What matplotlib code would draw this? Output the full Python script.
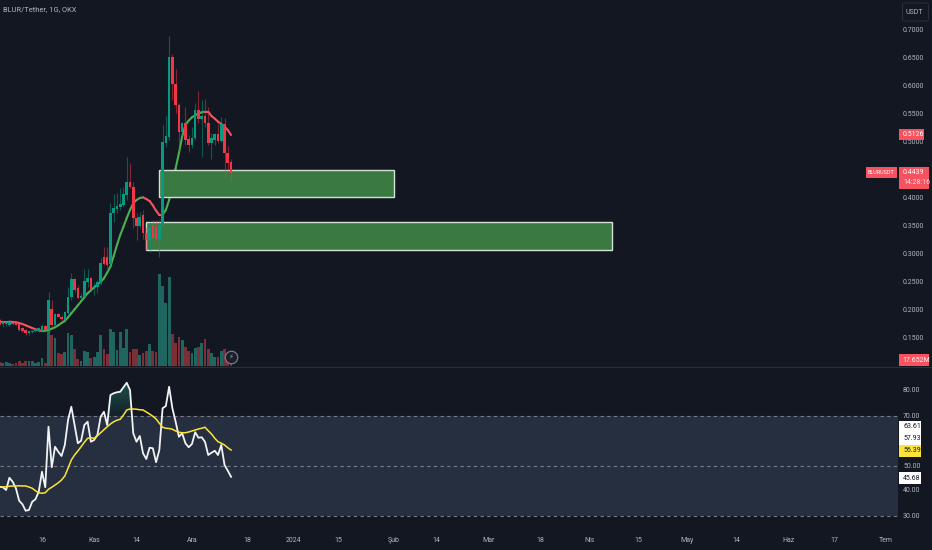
import matplotlib
matplotlib.use("Agg")
import matplotlib.pyplot as plt
from matplotlib import font_manager
from matplotlib.patches import Rectangle, FancyBboxPatch
import numpy as np

BG = "#131722"
W, H = 932, 550

# days counted from 16 Oct
days = list(range(-13, 59))
opens = [.1822, .1750, .1744, .1732, .1774, .1774, .1744, .1673, .1643, .1583, .1607, .1631, .1625, .1631, .1714,
         .1643, .2012, .1732, .1935, .1881, .1822, .1941, .2226, .2548, .2387, .2208, .2238, .2506, .2566, .2387,
         .2405, .2476, .2953, .2953, .2822, .3726, .3798, .3845, .3875, .4054, .4280, .4203, .3649, .3500, .3697,
         .3369, .3250, .3518, .3488, .3262, .3518, .4988, .5095, .6512, .6036, .5661, .5185, .5333, .5048, .4947,
         .5066, .5572, .5405, .5464, .5345, .4988, .5036, .5137, .5024, .5316, .4810, .4649]
highs = [.1833, .1810, .1792, .1792, .1786, .1786, .1762, .1691, .1655, .1619, .1643, .1673, .1702, .1744, .1732,
         .2328, .2179, .1953, .1953, .1905, .1988, .2417, .2667, .2572, .2446, .2298, .2726, .2726, .2583, .2476,
         .2536, .2923, .3131, .3131, .3905, .4072, .4083, .4173, .4203, .4738, .4619, .4292, .3726, .3756, .3786,
         .3488, .3578, .3607, .3607, .3607, .5304, .5464, .6893, .6566, .6298, .5691, .5363, .5619, .5125, .5262,
         .5691, .5917, .5750, .5762, .5631, .5155, .5155, .5321, .5452, .5423, .4929, .4691]
lows = [.1732, .1702, .1714, .1714, .1726, .1726, .1619, .1613, .1554, .1548, .1583, .1613, .1607, .1613, .1613,
        .1583, .1714, .1714, .1869, .1810, .1792, .1911, .2179, .2328, .2191, .2179, .2208, .2417, .2345, .2268,
        .2298, .2446, .2804, .2744, .2774, .3578, .3726, .3786, .3845, .3964, .4173, .3458, .3250, .3458, .3262,
        .3072, .3042, .3250, .3250, .2953, .3488, .4917, .5036, .5750, .5512, .4827, .5036, .4947, .4827, .4887,
        .5036, .5333, .4738, .5274, .4947, .4691, .4947, .4988, .5006, .4333, .4500, .4292]
closes = [.1750, .1792, .1780, .1780, .1744, .1738, .1643, .1631, .1583, .1619, .1631, .1655, .1673, .1714, .1643,
          .2179, .1732, .1929, .1881, .1833, .1970, .2238, .2548, .2357, .2208, .2250, .2518, .2566, .2357, .2417,
          .2494, .2833, .2822, .2804, .3738, .3816, .3857, .3893, .4072, .4280, .4203, .3637, .3500, .3667, .3369,
          .3250, .3458, .3280, .3262, .3518, .5006, .5107, .6512, .6036, .5661, .5185, .5333, .5036, .4947, .5066,
          .5572, .5405, .5464, .5345, .4988, .5066, .5137, .5024, .5316, .4810, .4631, .4439]
volumes = [12, 9, 12, 9, 6, 9, 15, 9, 15, 15, 15, 9, 12, 24, 9,
           114, 93, 84, 39, 36, 42, 99, 93, 51, 21, 15, 45, 42, 24, 27,
           42, 93, 51, 36, 111, 102, 48, 102, 54, 111, 42, 51, 51, 33, 39,
           45, 66, 45, 42, 276, 240, 189, 267, 96, 69, 87, 78, 57, 45, 39,
           54, 57, 69, 81, 51, 39, 27, 27, 45, 51, 39, 17.652]
ma = [.1792, .1792, .1792, .1792, .1786, .1780, .1768, .1750, .1726, .1702, .1679, .1655, .1637, .1625, .1631,
      .1643, .1667, .1691, .1726, .1768, .1804, .1869, .1941, .2012, .2083, .2155, .2226, .2298, .2351, .2405,
      .2452, .2500, .2566, .2667, .2774, .2964, .3161, .3339, .3488, .3643, .3786, .3905, .3964, .4000, .4012,
      .3982, .3947, .3869, .3774, .3697, .3697, .3786, .3964, .4232, .4530, .4798, .5095, .5304, .5381, .5441,
      .5476, .5512, .5530, .5542, .5542, .5464, .5417, .5363, .5322, .5274, .5214, .5126]
rsi = [41.7, 41.5, 40.4, 45.3, 43.7, 41.1, 36.1, 34.7, 32.1, 32.4, 35.7, 36.7, 39.7, 47.7, 41.5,
       65.7, 49.5, 57.7, 55.7, 54.0, 58.4, 68.4, 73.7, 66.4, 59.1, 60.1, 66.4, 67.7, 59.7, 60.4,
       62.4, 69.7, 71.7, 66.4, 78.4, 79.1, 79.5, 79.7, 81.5, 83.3, 80.4, 63.1, 59.7, 62.0, 55.1,
       52.8, 57.3, 57.1, 51.5, 56.4, 73.1, 74.0, 81.7, 73.1, 67.7, 61.7, 63.1, 59.1, 57.5, 58.8,
       63.5, 61.3, 61.5, 59.7, 54.4, 55.3, 56.1, 54.4, 58.4, 50.4, 48.1, 45.68]
rsi_ma = [41.5, 41.6, 41.7, 41.9, 42.0, 42.0, 42.1, 42.0, 42.0, 41.6, 41.1, 40.1, 39.3, 39.1, 39.3,
          40.7, 41.5, 42.4, 43.3, 44.4, 46.0, 49.1, 52.4, 54.4, 56.0, 57.7, 59.5, 61.1, 61.3, 61.1,
          62.1, 63.3, 64.5, 65.7, 66.8, 67.7, 68.3, 68.7, 70.4, 72.4, 72.8, 72.8, 72.7, 72.5, 72.4,
          71.6, 70.8, 69.9, 68.8, 67.1, 65.5, 65.1, 65.0, 64.7, 64.0, 63.5, 63.3, 63.3, 63.6, 64.0,
          64.4, 64.8, 65.1, 65.5, 64.1, 62.8, 61.1, 59.7, 59.1, 58.4, 57.3, 56.39]

price_ticks = [.15, .20, .25, .30, .35, .40, .45, .50, .55, .60, .65, .70]
rsi_ticks = [30, 40, 50, 70, 80]
time_pos = [0, 16, 29, 46, 63, 77, 91, 108, 121, 137, 153, 168, 183, 198, 213, 229, 243, 259]
time_labels = ["16", "Kas", "14", "Ara", "18", "2024", "15", "Şub", "14", "Mar", "18", "Nis", "15",
               "May", "14", "Haz", "17", "Tem"]

names = {f.name for f in font_manager.fontManager.ttflist}
narrow = "Liberation Sans Narrow" in names
plt.rcParams["font.family"] = (["Liberation Sans Narrow"] if narrow else ["Roboto"]) + ["DejaVu Sans"]
FS = 6.4 if narrow else 5.0
GREEN, RED = "#089981", "#f23645"
TXT = "#b2b5be"

fig = plt.figure(figsize=(W / 100, H / 100), dpi=100, facecolor=BG)


def axes_px(x0, y0, x1, y1):
    return fig.add_axes([x0 / W, 1 - y1 / H, (x1 - x0) / W, (y1 - y0) / H], facecolor=BG)


def ftext(x, y, s, **kw):
    kw.setdefault("color", TXT)
    kw.setdefault("fontsize", FS)
    kw.setdefault("va", "center")
    fig.text(x / W, 1 - y / H, s, **kw)


def tag(x0, y0, x1, y1, color):
    fig.add_artist(Rectangle((x0 / W, 1 - y1 / H), (x1 - x0) / W, (y1 - y0) / H,
                             transform=fig.transFigure, fc=color, ec="none", zorder=5))


xlim = (-12.88, 262.6)
ax = axes_px(0, 0, 898, 366)
ax.set_xlim(xlim)
ax.set_ylim(.1, .7536)
ax.axis("off")

# volume sits in the same pane on its own scale
vol = ax.twinx()
vol.set_ylim(0, 1098)
vol.axis("off")
vol.set_zorder(0)
ax.set_zorder(1)
ax.patch.set_visible(False)
up = [c >= o for o, c in zip(opens, closes)]
vol.bar(days, volumes, width=0.85, color=["#1f6660" if u else "#7d2f38" for u in up], linewidth=0)

# zones hide the average but not the candles
ax.add_patch(Rectangle((31.9, .3071), 142.9, .0501, fc="#3a7a42", ec="#d5e3d6", lw=1, zorder=3))
ax.add_patch(Rectangle((36.0, .4018), 72.0, .0482, fc="#3a7a42", ec="#d5e3d6", lw=1, zorder=3))

for d, o, h, l, c, u in zip(days, opens, highs, lows, closes, up):
    col = GREEN if u else RED
    ax.vlines(d, l, h, color=col, lw=0.8, alpha=0.5, zorder=4)
    ax.bar(d, abs(c - o) or .0006, bottom=min(o, c), width=0.8, color=col, linewidth=0, zorder=4)

# moving average changes colour with direction
for i in range(len(days) - 1):
    col = "#4caf50" if ma[i + 1] > ma[i] else "#f7525f"
    ax.plot(days[i:i + 2], ma[i:i + 2], color=col, lw=1.5, zorder=2, solid_capstyle="round")

# rsi pane
ax2 = axes_px(0, 367, 898, 525)
ax2.axis("off")
ax2.axhspan(30, 70, color="#262f40", lw=0)
for lev in [70, 50, 30]:
    ax2.axhline(lev, color="#787b86", lw=0.8, ls=(0, (3, 3)))

d_arr, r_arr = np.array(days), np.array(rsi)
mask = (d_arr >= 20) & (d_arr <= 28)
poly = ax2.fill_between(d_arr[mask], 70, r_arr[mask], where=r_arr[mask] >= 70, interpolate=True,
                        color="none", lw=0)
grad = ax2.imshow(np.linspace(1, 0, 64).reshape(-1, 1), extent=(18, 30, 70, 84), aspect="auto", origin="upper",
                  cmap=matplotlib.colors.LinearSegmentedColormap.from_list("ob", ["#14202a", "#1f5349"]),
                  zorder=1)
grad.set_clip_path(poly.get_paths()[0], transform=ax2.transData)
ax2.set_xlim(xlim)
ax2.set_ylim(26.4, 89.6)
ax2.plot(days, rsi, color="#f2f3f5", lw=1.3, zorder=3)
ax2.plot(days, rsi_ma, color="#fbe437", lw=1.1, zorder=3)

# panel border and axis text
fig.add_artist(plt.Line2D([0, 1], [1 - 366.5 / H] * 2, color="#2a2e39", lw=0.8))
ftext(3, 10, "BLUR/Tether, 1G, OKX", fontsize=FS + 0.4)

for p in price_ticks:
    ftext(903, (.7536 - p) * 560, f"{p:.4f}")
for r in rsi_ticks:
    ftext(903, 391 + (80 - r) * 2.5, f"{r:.2f}")
for d, s in zip(time_pos, time_labels):
    ftext(42 + 3.26 * d, 540, s, ha="center")

fig.add_artist(FancyBboxPatch((902.5 / W, 1 - 21 / H), 26 / W, 18 / H, transform=fig.transFigure,
                              boxstyle="round,pad=0,rounding_size=0.003", fc=BG, ec="#2a2e39", lw=0.8))
ftext(906, 12, "USDT")

tag(899, 129, 924, 140, "#f7525f")
ftext(903, 134.5, "0.5126", color="white", zorder=6)
tag(866, 167, 897, 178, "#f7525f")
ftext(868, 172.5, "BLURUSDT", color="white", zorder=6, fontsize=FS * 0.78)
tag(899, 167, 929, 189, "#f7525f")
ftext(903, 172.5, "0.4439", color="white", zorder=6)
ftext(903, 183, "14:28:16", color="#ffe0e0", zorder=6)
tag(899, 354, 929, 366, "#f7525f")
ftext(902, 360.5, "17.652M", color="white", zorder=6)

tag(899, 421, 921, 445, "white")
ftext(903, 427, "63.61", color="#131722", zorder=6)
ftext(903, 438.5, "57.93", color="#131722", zorder=6)
tag(899, 445, 921, 457, "#fbe437")
ftext(903, 451, "56.39", color="#131722", zorder=6)
tag(899, 472, 921, 484, "white")
ftext(903, 478, "45.68", color="#131722", zorder=6)

# lightning badge at the end of the volume bars
badge = plt.Line2D([231 / W], [1 - 357 / H], marker="o", ms=9, mfc="#1b1f2b", mec="#787b86", mew=0.9,
                   transform=fig.transFigure, zorder=5)
fig.add_artist(badge)
ftext(231, 357, "⚡", ha="center", color="#9598a1", fontsize=5, family="DejaVu Sans", zorder=6)

fig.savefig("out.png", dpi=100, facecolor=BG)
